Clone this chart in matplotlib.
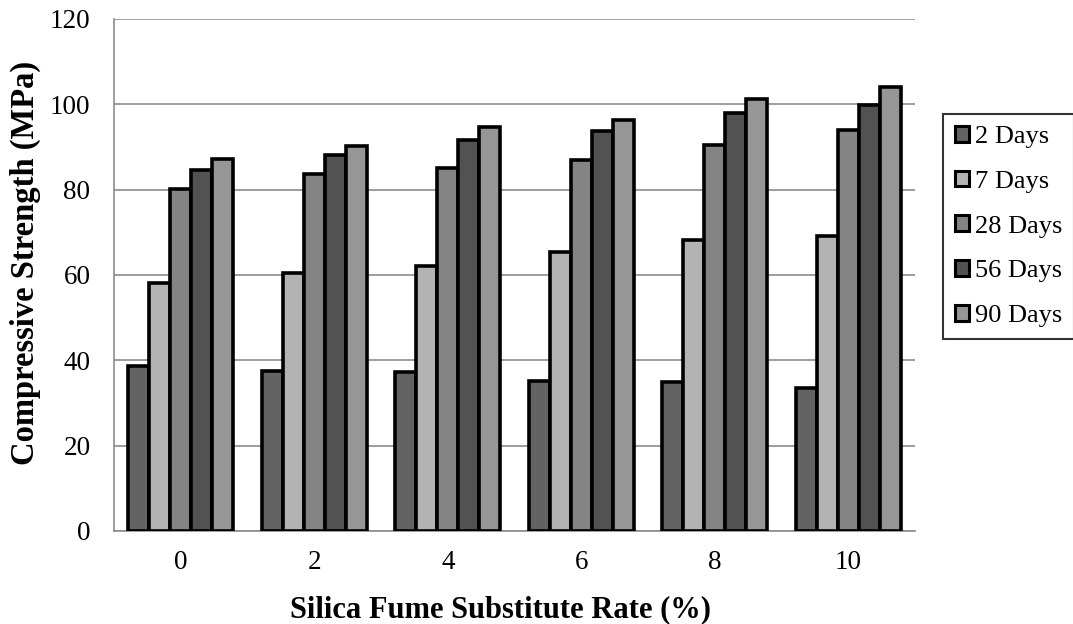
import matplotlib.pyplot as plt
import matplotlib.patches as mpatches
import numpy as np

# Data
rates = ["0", "2", "4", "6", "8", "10"]
series = ["2 Days", "7 Days", "28 Days", "56 Days", "90 Days"]
days_2 = [38.6, 37.4, 37.2, 35.1, 34.9, 33.4]
days_7 = [58.2, 60.4, 62.0, 65.5, 68.1, 69.2]
days_28 = [80.2, 83.7, 85.1, 87.0, 90.5, 94.0]
days_56 = [84.5, 88.2, 91.7, 93.8, 98.0, 99.9]
days_90 = [87.3, 90.3, 94.7, 96.4, 101.3, 104.1]
yticks = [0, 20, 40, 60, 80, 100, 120]

COLORS = ["#636363", "#b3b3b3", "#848484", "#525252", "#969696"]
GRID = "#8c8c8c"
FONT = "Liberation Serif"

plt.rcParams.update({"font.family": FONT})

fig = plt.figure(figsize=(10.73, 6.24), dpi=100, facecolor="white")
ax = fig.add_axes([114 / 1073, 1 - 531 / 624, (915 - 114) / 1073, (531 - 19) / 624])

values = [days_2, days_7, days_28, days_56, days_90]
x = np.arange(len(rates))
width = 0.158
for i, (vals, color) in enumerate(zip(values, COLORS)):
    offset = (i - 2) * width
    ax.bar(x + offset, vals, width, color=color, edgecolor="black", linewidth=2.6, zorder=3)

ax.set_xlim(-0.5, len(rates) - 0.5)
ax.set_ylim(0, 120)
ax.set_yticks(yticks)
ax.set_xticks(x)
ax.set_xticklabels(rates)
ax.tick_params(axis="both", length=0, labelsize=19.5, colors="black")
ax.tick_params(axis="y", pad=17)
ax.tick_params(axis="x", pad=14)
ax.grid(axis="y", color=GRID, lw=1.2, zorder=0)
ax.set_axisbelow(True)
for spine in ("top", "right"):
    ax.spines[spine].set_visible(False)
for spine in ("left", "bottom"):
    ax.spines[spine].set_color(GRID)
    ax.spines[spine].set_linewidth(1.2)

ax.set_xlabel("Silica Fume Substitute Rate (%)", fontsize=22, fontweight="bold")
ax.set_ylabel("Compressive Strength (MPa)", fontsize=23.5, fontweight="bold")
ax.xaxis.set_label_coords(0.483, -0.154)
ax.yaxis.set_label_coords(-0.111, 0.523)
ax.xaxis.label.set_va("center")
ax.yaxis.label.set_va("center")

handles = [mpatches.Patch(facecolor=c, edgecolor="black", linewidth=2.2) for c in COLORS]
leg = fig.legend(
    handles,
    series,
    loc="upper left",
    bbox_to_anchor=(943 / 1073, 1 - 114 / 624),
    frameon=True,
    fontsize=19,
    handlelength=0.55,
    handleheight=0.55,
    handletextpad=0.2,
    labelspacing=0.85,
    borderpad=0.45,
    borderaxespad=0,
    fancybox=False,
)
leg.get_frame().set_edgecolor("black")
leg.get_frame().set_linewidth(1.5)

fig.savefig("out.png", dpi=100, facecolor="white")
